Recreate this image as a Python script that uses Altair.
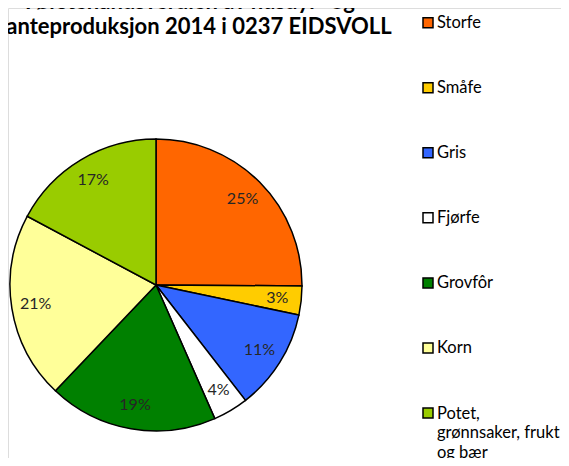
import altair as alt
import pandas as pd

categories = ["Storfe", "Småfe", "Gris", "Fjørfe", "Grovfôr", "Korn", "Potet, grønnsaker, frukt og bær"]
legend_labels = ["Storfe", "Småfe", "Gris", "Fjørfe", "Grovfôr", "Korn", "Potet,\ngrønnsaker, frukt\nog bær"]
values = [25.1, 3.2, 11.2, 3.9, 18.7, 20.7, 17.2]
pct_labels = ["25%", "3%", "11%", "4%", "19%", "21%", "17%"]
colors = ["#FF6600", "#FFCC00", "#3366FF", "#FFFFFF", "#008000", "#FFFF99", "#99CC00"]
title_lines = ["Førstehandsverdien av husdyr- og", "planteproduksjon 2014 i 0237 EIDSVOLL"]

df = pd.DataFrame({
    "cat": categories,
    "value": values,
    "pct": pct_labels,
    "legend": legend_labels,
    "idx": list(range(len(categories))),
})

color = alt.Color("cat:N", scale=alt.Scale(domain=categories, range=colors), legend=None)
cx, cy = 148, 277

base = alt.Chart(df)

pie = base.mark_arc(outerRadius=146, stroke="black", strokeWidth=1.5).encode(
    theta=alt.Theta("value:Q", stack=True),
    order=alt.Order("idx:Q", sort="ascending"),
    color=color,
    x=alt.value(cx), y=alt.value(cy),
)

pie_text = base.mark_text(radius=122, font="Lato", fontSize=16, color="#262626").encode(
    theta=alt.Theta("value:Q", stack=True),
    order=alt.Order("idx:Q", sort="ascending"),
    text="pct:N",
    x=alt.value(cx), y=alt.value(cy),
)

ly = alt.Y("cat:N", sort=categories, scale=alt.Scale(range=[14.7, 405], padding=0), axis=None)

leg_sym = base.mark_square(size=100, stroke="black", strokeWidth=1.5, opacity=1).encode(
    x=alt.value(420), y=ly, color=color,
)

leg_txt = base.mark_text(align="left", baseline="alphabetic", dy=5.5, font="Lato", fontSize=16.5,
                         lineBreak="\n", lineHeight=19.5, color="black").encode(
    x=alt.value(429), y=ly, text="legend:N",
)

title_df = pd.DataFrame({"t": ["\n".join(title_lines)]})
title = alt.Chart(title_df).mark_text(align="center", baseline="alphabetic", font="Lato", fontSize=22,
                                      fontWeight="bold", lineBreak="\n", lineHeight=25, color="black").encode(
    x=alt.value(182), y=alt.value(1), text="t:N",
)

chart = alt.layer(pie, pie_text, leg_sym, leg_txt, title).properties(
    width=553, height=450, padding=0, autosize=alt.AutoSizeParams(type="none"),
).configure_view(stroke=None).configure(background="white")

chart.save("out.html", embed_options={"renderer": "svg", "actions": False})
